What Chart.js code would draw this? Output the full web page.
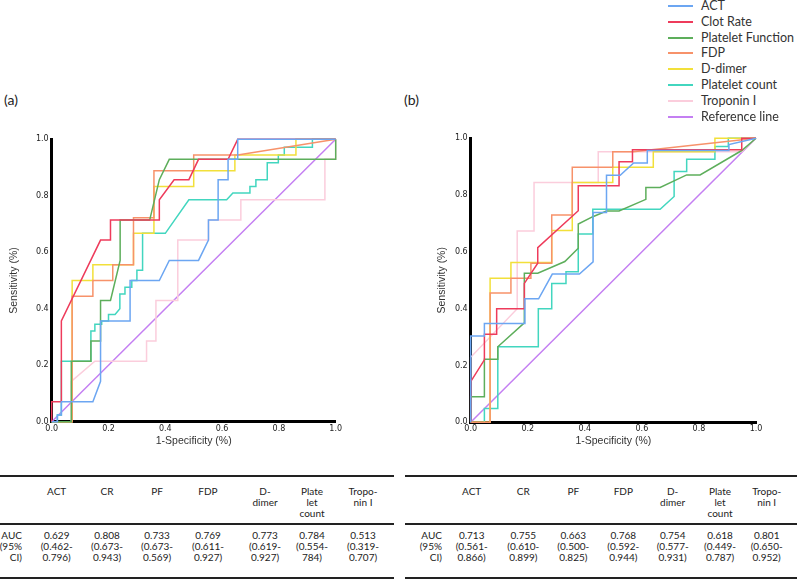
<!DOCTYPE html>
<html>
<head>
<meta charset="utf-8">
<script src="https://cdn.jsdelivr.net/npm/chart.js@4.4.0/dist/chart.umd.min.js"></script>
<style>
  body { margin: 0; background: #fff; }
  #page { position: relative; width: 798px; height: 580px; overflow: hidden; font-family: Lato, "Liberation Sans", sans-serif; color: #333; }
  canvas { position: absolute; }
  .lbl { position: absolute; font-size: 14px; color: #222; }
  .leg { position: absolute; left: 668px; height: 14px; width: 130px; font-size: 12.5px; line-height: 14px; }
  .leg span { position: absolute; left: 0; top: 6px; width: 25px; height: 2px; }
  .leg b { position: absolute; left: 33px; top: 0; font-weight: normal; white-space: nowrap; }
  .rule { position: absolute; height: 2px; background: #222; }
  .cell { position: absolute; width: 50px; margin-left: -25px; text-align: center; font-size: 10px; line-height: 11px; color: #222; }
  .rowlbl { position: absolute; width: 40px; text-align: right; font-size: 10px; line-height: 11px; color: #222; }
</style>
</head>
<body>
<div id="page">
  <div class="lbl" style="left:4px; top:91px;">(a)</div>
  <div class="lbl" style="left:404px; top:91px;">(b)</div>
  <canvas id="rocA" width="398" height="340" style="left:0; top:120px;"></canvas>
  <canvas id="rocB" width="398" height="340" style="left:400px; top:120px;"></canvas>
</div>
<script>
// series names in legend order
var seriesNames = ['ACT', 'Clot Rate', 'Platelet Function', 'FDP', 'D-dimer', 'Platelet count', 'Troponin I', 'Reference line'];
var seriesColors = ['#6CA6F2', '#EE3B5B', '#5DAE5B', '#F7926A', '#F2E03A', '#42D6BF', '#FBCDDC', '#C47FF2'];

var axisTicks = [0, 0.2, 0.4, 0.6, 0.8, 1.0];

// panel (a): [1-specificity, sensitivity]
var actA = [[0,0],[0.02,0],[0.02,0.024],[0.034,0.024],[0.034,0.071],[0.145,0.071],[0.172,0.143],[0.172,0.357],[0.276,0.357],[0.276,0.5],[0.379,0.5],[0.414,0.571],[0.517,0.571],[0.552,0.643],[0.552,0.714],[0.586,0.714],[0.586,0.857],[0.621,0.857],[0.621,0.929],[0.655,0.929],[0.655,1],[1,1]];
var clotA = [[0,0],[0,0.071],[0.034,0.071],[0.034,0.357],[0.172,0.643],[0.207,0.643],[0.207,0.714],[0.379,0.714],[0.379,0.786],[0.431,0.857],[0.483,0.857],[0.517,0.929],[0.621,0.929],[0.655,1],[1,1]];
var pfA = [[0,0],[0.069,0],[0.069,0.214],[0.138,0.214],[0.138,0.286],[0.172,0.286],[0.172,0.429],[0.207,0.429],[0.241,0.571],[0.241,0.714],[0.345,0.714],[0.379,0.857],[0.414,0.929],[1,0.929],[1,1]];
var fdpA = [[0,0],[0.072,0],[0.072,0.444],[0.145,0.444],[0.145,0.5],[0.215,0.5],[0.215,0.556],[0.288,0.556],[0.288,0.722],[0.36,0.722],[0.36,0.889],[0.5,0.889],[0.5,0.944],[0.655,0.944],[1,1]];
var ddA = [[0,0],[0.072,0],[0.072,0.5],[0.145,0.5],[0.145,0.556],[0.288,0.556],[0.288,0.667],[0.36,0.667],[0.36,0.833],[0.5,0.833],[0.5,0.889],[0.645,0.889],[0.645,0.944],[0.86,0.944],[0.86,1],[1,1]];
var pcA = [[0,0],[0.02,0],[0.02,0.024],[0.034,0.024],[0.034,0.214],[0.138,0.214],[0.138,0.321],[0.152,0.321],[0.152,0.345],[0.176,0.345],[0.176,0.357],[0.2,0.357],[0.2,0.38],[0.223,0.38],[0.24,0.4],[0.24,0.452],[0.258,0.452],[0.258,0.476],[0.282,0.476],[0.282,0.5],[0.3,0.5],[0.3,0.536],[0.32,0.536],[0.32,0.667],[0.4,0.667],[0.483,0.786],[0.616,0.786],[0.638,0.81],[0.698,0.81],[0.698,0.833],[0.719,0.833],[0.719,0.857],[0.759,0.857],[0.759,0.917],[0.798,0.917],[0.798,0.944],[0.819,0.944],[0.819,0.972],[0.918,0.972],[0.918,1],[1,1]];
var tropA = [[0,0],[0.069,0],[0.069,0.143],[0.152,0.214],[0.334,0.214],[0.334,0.286],[0.367,0.286],[0.367,0.429],[0.444,0.429],[0.444,0.643],[0.552,0.643],[0.552,0.714],[0.666,0.714],[0.666,0.786],[0.962,0.786],[0.962,0.929],[1,0.929],[1,1]];

// panel (b)
var actB = [[0,0],[0,0.304],[0.048,0.304],[0.048,0.348],[0.19,0.348],[0.19,0.435],[0.238,0.435],[0.286,0.522],[0.381,0.522],[0.429,0.565],[0.429,0.739],[0.476,0.739],[0.476,0.87],[0.524,0.87],[0.571,0.913],[0.619,0.913],[0.619,0.957],[0.905,0.957],[0.905,0.978],[1,1]];
var clotB = [[0,0],[0,0.143],[0.048,0.22],[0.048,0.31],[0.091,0.31],[0.091,0.4],[0.188,0.4],[0.188,0.489],[0.235,0.56],[0.235,0.615],[0.377,0.745],[0.377,0.833],[0.52,0.833],[0.52,0.917],[0.567,0.917],[0.567,0.96],[0.95,0.96],[0.95,1],[1,1]];
var pfB = [[0,0],[0,0.09],[0.048,0.09],[0.048,0.222],[0.095,0.222],[0.095,0.266],[0.188,0.35],[0.188,0.525],[0.235,0.525],[0.33,0.566],[0.377,0.613],[0.377,0.698],[0.428,0.724],[0.476,0.744],[0.52,0.744],[0.614,0.785],[0.614,0.827],[0.664,0.827],[0.757,0.871],[0.804,0.871],[0.95,0.957],[1,1]];
var fdpB = [[0,0],[0.068,0],[0.068,0.455],[0.141,0.455],[0.141,0.507],[0.211,0.507],[0.211,0.56],[0.284,0.56],[0.284,0.73],[0.356,0.73],[0.356,0.898],[0.498,0.898],[0.498,0.953],[0.57,0.953],[1,1]];
var ddB = [[0,0],[0.068,0],[0.068,0.507],[0.141,0.507],[0.141,0.563],[0.284,0.563],[0.284,0.675],[0.356,0.675],[0.356,0.844],[0.498,0.844],[0.498,0.898],[0.64,0.898],[0.64,0.953],[0.856,0.953],[0.856,1],[1,1]];
var pcB = [[0,0],[0.048,0],[0.048,0.049],[0.095,0.049],[0.095,0.266],[0.237,0.266],[0.237,0.4],[0.284,0.4],[0.284,0.489],[0.334,0.489],[0.334,0.53],[0.377,0.53],[0.377,0.663],[0.428,0.663],[0.428,0.75],[0.664,0.75],[0.713,0.795],[0.713,0.883],[0.757,0.883],[0.757,0.926],[0.856,0.926],[0.856,0.971],[0.903,0.971],[0.903,1],[1,1]];
var tropB = [[0,0],[0,0.229],[0.163,0.4],[0.163,0.674],[0.222,0.674],[0.222,0.844],[0.447,0.844],[0.447,0.953],[0.95,0.953],[1,1]];

var refLine = [[0,0],[1,1]];

// AUC tables
var colHeads = [['ACT'], ['CR'], ['PF'], ['FDP'], ['D-', 'dimer'], ['Plate', 'let', 'count'], ['Tropo-', 'nin I']];
var rowHead = ['AUC', '(95%', 'CI)'];
var aucA = ['0.629', '0.808', '0.733', '0.769', '0.773', '0.784', '0.513'];
var ciLoA = ['0.462', '0.673', '0.673', '0.611', '0.619', '0.554', '0.319'];
var ciHiA = ['0.796', '0.943', '0.569', '0.927', '0.927', '784', '0.707'];
var aucB = ['0.713', '0.755', '0.663', '0.768', '0.754', '0.618', '0.801'];
var ciLoB = ['0.561', '0.610', '0.500', '0.592', '0.577', '0.449', '0.650'];
var ciHiB = ['0.866', '0.899', '0.825', '0.944', '0.931', '0.787', '0.952'];

function makeSets(curves) {
    return curves.map(function(c, i) {
        return {
            label: seriesNames[i],
            data: c.map(function(p) { return { x: p[0], y: p[1] }; }),
            borderColor: seriesColors[i],
            backgroundColor: seriesColors[i],
            borderWidth: 1.5,
            showLine: true,
            pointRadius: 0,
            tension: 0,
            clip: false
        };
    });
}

function makeChart(id, curves, pad, yWidth, xHeight, yTitlePad) {
    var tickFont = { family: 'DejaVu Sans', size: 8 };
    var titleFont = { family: 'Liberation Sans', size: 10.5 };
    return new Chart(document.getElementById(id), {
        type: 'scatter',
        data: { datasets: makeSets(curves) },
        options: {
            responsive: false,
            animation: false,
            layout: { padding: pad },
            plugins: { legend: { display: false }, tooltip: { enabled: false } },
            scales: {
                x: {
                    type: 'linear', min: 0, max: 1,
                    afterBuildTicks: function(s) { s.ticks = axisTicks.map(function(v) { return { value: v }; }); },
                    ticks: { font: tickFont, color: '#222', padding: 2, maxRotation: 0,
                             callback: function(v) { return Number(v).toFixed(1); } },
                    grid: { display: false, drawTicks: false },
                    border: { display: true, color: '#000', width: 3 },
                    title: { display: true, text: '1-Specificity (%)', font: titleFont, color: '#333',
                             padding: { top: 0, bottom: 12.7 } },
                    afterFit: function(s) { s.height = xHeight; }
                },
                y: {
                    type: 'linear', min: 0, max: 1,
                    afterBuildTicks: function(s) { s.ticks = axisTicks.map(function(v) { return { value: v }; }); },
                    ticks: { font: tickFont, color: '#222', padding: 3,
                             callback: function(v) { return Number(v).toFixed(1); } },
                    grid: { display: false, drawTicks: false },
                    border: { display: true, color: '#000', width: 3 },
                    title: { display: true, text: 'Sensitivity (%)', font: titleFont, color: '#333',
                             padding: { top: yTitlePad, bottom: 0 } },
                    afterFit: function(s) { s.width = yWidth; }
                }
            }
        }
    });
}

makeChart('rocA', [actA, clotA, pfA, fdpA, ddA, pcA, tropA, refLine],
          { left: 0, top: 19.3, right: 62.3, bottom: 0 }, 51.7, 38.3, 7.7);
makeChart('rocB', [actB, clotB, pfB, fdpB, ddB, pcB, tropB, refLine],
          { left: 0, top: 18.3, right: 42, bottom: 0 }, 70.7, 37.7, 35.4);

var page = document.getElementById('page');

// legend
seriesNames.forEach(function(name, i) {
    var d = document.createElement('div');
    d.className = 'leg';
    d.style.top = (-1 + i * 15.8) + 'px';
    d.innerHTML = '<span style="background:' + seriesColors[i] + '"></span><b>' + name + '</b>';
    page.appendChild(d);
});

function addDiv(cls, left, top, text, extra) {
    var d = document.createElement('div');
    d.className = cls;
    d.style.left = left + 'px';
    d.style.top = top + 'px';
    if (extra) d.style.width = extra + 'px';
    d.textContent = text;
    page.appendChild(d);
}

function drawTable(x0, x1, labelRight, cols, auc, lo, hi) {
    addDiv('rule', x0, 475, '', x1 - x0);
    addDiv('rule', x0, 523, '', x1 - x0);
    addDiv('rule', x0, 577, '', x1 - x0);
    rowHead.forEach(function(t, k) {
        addDiv('rowlbl', labelRight - 40, 530 + k * 11.2, t);
    });
    cols.forEach(function(cx, i) {
        colHeads[i].forEach(function(t, k) {
            addDiv('cell', cx, 486 + k * 11, t);
        });
        addDiv('cell', cx, 530, auc[i]);
        addDiv('cell', cx, 541.2, '(' + lo[i] + '-');
        addDiv('cell', cx, 552.4, hi[i] + ')');
    });
}

drawTable(0, 394, 22, [56.7, 107, 157, 208, 265, 312, 363], aucA, ciLoA, ciHiA);
drawTable(405, 797, 442, [471.7, 523.3, 573.3, 623.3, 672.7, 720, 766.7], aucB, ciLoB, ciHiB);
</script>
</body>
</html>
